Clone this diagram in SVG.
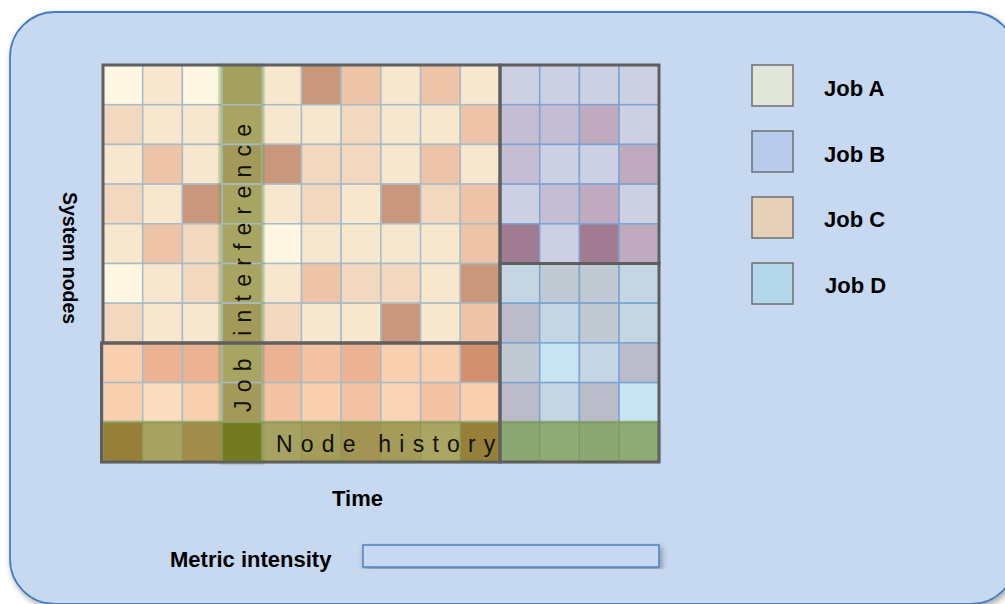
<svg xmlns="http://www.w3.org/2000/svg" width="1005" height="604" viewBox="0 0 1005 604">
<defs>
<filter id="sh" x="-5%" y="-5%" width="110%" height="110%"><feDropShadow dx="2" dy="3" stdDeviation="3" flood-color="#000" flood-opacity="0.35"/></filter>
<filter id="blur" x="-20%" y="-5%" width="140%" height="110%"><feGaussianBlur stdDeviation="1.2"/></filter>
<style>
.c rect{stroke:#a9bcc6;stroke-width:1.5}
.bd rect{stroke:#7ba4d4;stroke-width:1.5}
.cr{fill:#fdf7e1}.l{fill:#f8e7cf}.m{fill:#f2d8bf}.s{fill:#eec4a9}.d{fill:#c9977b}
.o1{fill:#f8d0b0}.o2{fill:#ecb294}.o3{fill:#f2c2a2}.o4{fill:#d3906f}.o5{fill:#fcdcbf}.o6{fill:#fad4b4}
.b1{fill:#cdcfe3}.b2{fill:#c5bdd1}.b3{fill:#bfaabf}.b4{fill:#a07b91}
.d1{fill:#c3d6e1}.d2{fill:#c1c9d3}.d3{fill:#bbbcc9}.d4{fill:#c7e4f0}
.g1{fill:#a8a461}.g2{fill:#a39a5a}.g0{fill:#a4a05e}
.box{fill:none;stroke:#5f5f5f;stroke-width:3}
.lab{font-family:"Liberation Sans",Arial,sans-serif;font-weight:bold;font-size:22px;fill:#000}
.band{font-family:"Liberation Sans",Arial,sans-serif;font-size:23px;fill:#111;letter-spacing:8.2px}
.leg{stroke:#6f6f6f;stroke-width:1.5}
</style>
</defs>
<rect x="10" y="12" width="1006" height="592" rx="45" ry="45" fill="#c6d9f1" stroke="#4a7ebb" stroke-width="1.8" filter="url(#sh)"/>
<g id="grid">
<g class="c">
<rect x="103" y="65" width="39.7" height="39.7" class="cr"/><rect x="142.7" y="65" width="39.7" height="39.7" class="l"/><rect x="182.4" y="65" width="39.7" height="39.7" class="cr"/><rect x="222.1" y="65" width="39.7" height="39.7" class="g0"/><rect x="261.8" y="65" width="39.7" height="39.7" class="l"/><rect x="301.5" y="65" width="39.7" height="39.7" class="d"/><rect x="341.2" y="65" width="39.7" height="39.7" class="s"/><rect x="380.9" y="65" width="39.7" height="39.7" class="l"/><rect x="420.6" y="65" width="39.7" height="39.7" class="s"/><rect x="460.3" y="65" width="39.7" height="39.7" class="l"/>
<rect x="103" y="104.7" width="39.7" height="39.7" class="m"/><rect x="142.7" y="104.7" width="39.7" height="39.7" class="l"/><rect x="182.4" y="104.7" width="39.7" height="39.7" class="l"/><rect x="222.1" y="104.7" width="39.7" height="39.7" class="g1"/><rect x="261.8" y="104.7" width="39.7" height="39.7" class="l"/><rect x="301.5" y="104.7" width="39.7" height="39.7" class="l"/><rect x="341.2" y="104.7" width="39.7" height="39.7" class="m"/><rect x="380.9" y="104.7" width="39.7" height="39.7" class="l"/><rect x="420.6" y="104.7" width="39.7" height="39.7" class="l"/><rect x="460.3" y="104.7" width="39.7" height="39.7" class="s"/>
<rect x="103" y="144.4" width="39.7" height="39.7" class="l"/><rect x="142.7" y="144.4" width="39.7" height="39.7" class="s"/><rect x="182.4" y="144.4" width="39.7" height="39.7" class="l"/><rect x="222.1" y="144.4" width="39.7" height="39.7" class="g2"/><rect x="261.8" y="144.4" width="39.7" height="39.7" class="d"/><rect x="301.5" y="144.4" width="39.7" height="39.7" class="m"/><rect x="341.2" y="144.4" width="39.7" height="39.7" class="m"/><rect x="380.9" y="144.4" width="39.7" height="39.7" class="l"/><rect x="420.6" y="144.4" width="39.7" height="39.7" class="s"/><rect x="460.3" y="144.4" width="39.7" height="39.7" class="l"/>
<rect x="103" y="184.1" width="39.7" height="39.7" class="m"/><rect x="142.7" y="184.1" width="39.7" height="39.7" class="l"/><rect x="182.4" y="184.1" width="39.7" height="39.7" class="d"/><rect x="222.1" y="184.1" width="39.7" height="39.7" class="g1"/><rect x="261.8" y="184.1" width="39.7" height="39.7" class="l"/><rect x="301.5" y="184.1" width="39.7" height="39.7" class="m"/><rect x="341.2" y="184.1" width="39.7" height="39.7" class="l"/><rect x="380.9" y="184.1" width="39.7" height="39.7" class="d"/><rect x="420.6" y="184.1" width="39.7" height="39.7" class="m"/><rect x="460.3" y="184.1" width="39.7" height="39.7" class="s"/>
<rect x="103" y="223.8" width="39.7" height="39.7" class="l"/><rect x="142.7" y="223.8" width="39.7" height="39.7" class="s"/><rect x="182.4" y="223.8" width="39.7" height="39.7" class="m"/><rect x="222.1" y="223.8" width="39.7" height="39.7" class="g1"/><rect x="261.8" y="223.8" width="39.7" height="39.7" class="cr"/><rect x="301.5" y="223.8" width="39.7" height="39.7" class="l"/><rect x="341.2" y="223.8" width="39.7" height="39.7" class="l"/><rect x="380.9" y="223.8" width="39.7" height="39.7" class="l"/><rect x="420.6" y="223.8" width="39.7" height="39.7" class="l"/><rect x="460.3" y="223.8" width="39.7" height="39.7" class="s"/>
<rect x="103" y="263.5" width="39.7" height="39.7" class="cr"/><rect x="142.7" y="263.5" width="39.7" height="39.7" class="l"/><rect x="182.4" y="263.5" width="39.7" height="39.7" class="m"/><rect x="222.1" y="263.5" width="39.7" height="39.7" class="g1"/><rect x="261.8" y="263.5" width="39.7" height="39.7" class="l"/><rect x="301.5" y="263.5" width="39.7" height="39.7" class="s"/><rect x="341.2" y="263.5" width="39.7" height="39.7" class="m"/><rect x="380.9" y="263.5" width="39.7" height="39.7" class="m"/><rect x="420.6" y="263.5" width="39.7" height="39.7" class="l"/><rect x="460.3" y="263.5" width="39.7" height="39.7" class="d"/>
<rect x="103" y="303.2" width="39.7" height="39.7" class="m"/><rect x="142.7" y="303.2" width="39.7" height="39.7" class="l"/><rect x="182.4" y="303.2" width="39.7" height="39.7" class="l"/><rect x="222.1" y="303.2" width="39.7" height="39.7" class="g2"/><rect x="261.8" y="303.2" width="39.7" height="39.7" class="m"/><rect x="301.5" y="303.2" width="39.7" height="39.7" class="l"/><rect x="341.2" y="303.2" width="39.7" height="39.7" class="l"/><rect x="380.9" y="303.2" width="39.7" height="39.7" class="d"/><rect x="420.6" y="303.2" width="39.7" height="39.7" class="l"/><rect x="460.3" y="303.2" width="39.7" height="39.7" class="s"/>
<rect x="103" y="342.9" width="39.7" height="39.7" class="o1"/><rect x="142.7" y="342.9" width="39.7" height="39.7" class="o2"/><rect x="182.4" y="342.9" width="39.7" height="39.7" class="o2"/><rect x="222.1" y="342.9" width="39.7" height="39.7" class="g1"/><rect x="261.8" y="342.9" width="39.7" height="39.7" class="o2"/><rect x="301.5" y="342.9" width="39.7" height="39.7" class="o3"/><rect x="341.2" y="342.9" width="39.7" height="39.7" class="o2"/><rect x="380.9" y="342.9" width="39.7" height="39.7" class="o1"/><rect x="420.6" y="342.9" width="39.7" height="39.7" class="o1"/><rect x="460.3" y="342.9" width="39.7" height="39.7" class="o4"/>
<rect x="103" y="382.6" width="39.7" height="39.7" class="o1"/><rect x="142.7" y="382.6" width="39.7" height="39.7" class="o5"/><rect x="182.4" y="382.6" width="39.7" height="39.7" class="o1"/><rect x="222.1" y="382.6" width="39.7" height="39.7" class="g2"/><rect x="261.8" y="382.6" width="39.7" height="39.7" class="o3"/><rect x="301.5" y="382.6" width="39.7" height="39.7" class="o1"/><rect x="341.2" y="382.6" width="39.7" height="39.7" class="o3"/><rect x="380.9" y="382.6" width="39.7" height="39.7" class="o6"/><rect x="420.6" y="382.6" width="39.7" height="39.7" class="o3"/><rect x="460.3" y="382.6" width="39.7" height="39.7" class="o1"/>
</g>
<g class="bd">
<rect x="500" y="65" width="39.7" height="39.7" class="b1"/><rect x="539.7" y="65" width="39.7" height="39.7" class="b1"/><rect x="579.4" y="65" width="39.7" height="39.7" class="b1"/><rect x="619.1" y="65" width="39.7" height="39.7" class="b1"/>
<rect x="500" y="104.7" width="39.7" height="39.7" class="b2"/><rect x="539.7" y="104.7" width="39.7" height="39.7" class="b2"/><rect x="579.4" y="104.7" width="39.7" height="39.7" class="b3"/><rect x="619.1" y="104.7" width="39.7" height="39.7" class="b1"/>
<rect x="500" y="144.4" width="39.7" height="39.7" class="b2"/><rect x="539.7" y="144.4" width="39.7" height="39.7" class="b1"/><rect x="579.4" y="144.4" width="39.7" height="39.7" class="b1"/><rect x="619.1" y="144.4" width="39.7" height="39.7" class="b3"/>
<rect x="500" y="184.1" width="39.7" height="39.7" class="b1"/><rect x="539.7" y="184.1" width="39.7" height="39.7" class="b2"/><rect x="579.4" y="184.1" width="39.7" height="39.7" class="b3"/><rect x="619.1" y="184.1" width="39.7" height="39.7" class="b1"/>
<rect x="500" y="223.8" width="39.7" height="39.7" class="b4"/><rect x="539.7" y="223.8" width="39.7" height="39.7" class="b1"/><rect x="579.4" y="223.8" width="39.7" height="39.7" class="b4"/><rect x="619.1" y="223.8" width="39.7" height="39.7" class="b3"/>
<rect x="500" y="263.5" width="39.7" height="39.7" class="d1"/><rect x="539.7" y="263.5" width="39.7" height="39.7" class="d2"/><rect x="579.4" y="263.5" width="39.7" height="39.7" class="d2"/><rect x="619.1" y="263.5" width="39.7" height="39.7" class="d1"/>
<rect x="500" y="303.2" width="39.7" height="39.7" class="d3"/><rect x="539.7" y="303.2" width="39.7" height="39.7" class="d1"/><rect x="579.4" y="303.2" width="39.7" height="39.7" class="d2"/><rect x="619.1" y="303.2" width="39.7" height="39.7" class="d1"/>
<rect x="500" y="342.9" width="39.7" height="39.7" class="d2"/><rect x="539.7" y="342.9" width="39.7" height="39.7" class="d4"/><rect x="579.4" y="342.9" width="39.7" height="39.7" class="d1"/><rect x="619.1" y="342.9" width="39.7" height="39.7" class="d3"/>
<rect x="500" y="382.6" width="39.7" height="39.7" class="d3"/><rect x="539.7" y="382.6" width="39.7" height="39.7" class="d1"/><rect x="579.4" y="382.6" width="39.7" height="39.7" class="d3"/><rect x="619.1" y="382.6" width="39.7" height="39.7" class="d4"/>
</g>
<g id="history-row" stroke="#8a9a55" stroke-width="1.2">
<rect x="103" y="422.3" width="39.7" height="39.7" fill="#977f3a"/><rect x="142.7" y="422.3" width="39.7" height="39.7" fill="#a9a363"/><rect x="182.4" y="422.3" width="39.7" height="39.7" fill="#a28c4c"/><rect x="222.1" y="422.3" width="39.7" height="39.7" fill="#737a1f"/><rect x="261.8" y="422.3" width="39.7" height="39.7" fill="#a8a262"/><rect x="301.5" y="422.3" width="39.7" height="39.7" fill="#a59b5a"/><rect x="341.2" y="422.3" width="39.7" height="39.7" fill="#a39453"/><rect x="380.9" y="422.3" width="39.7" height="39.7" fill="#a59c5a"/><rect x="420.6" y="422.3" width="39.7" height="39.7" fill="#aaa563"/><rect x="460.3" y="422.3" width="39.7" height="39.7" fill="#977f39"/>
<rect x="500" y="422.3" width="39.7" height="39.7" fill="#8ca773" stroke="#7e9a66"/><rect x="539.7" y="422.3" width="39.7" height="39.7" fill="#8fab76" stroke="#7e9a66"/><rect x="579.4" y="422.3" width="39.7" height="39.7" fill="#8ca773" stroke="#7e9a66"/><rect x="619.1" y="422.3" width="39.7" height="39.7" fill="#8fab76" stroke="#7e9a66"/>
</g>
</g>
<g id="job-interference">
<rect x="220" y="65" width="43" height="398" fill="none" stroke="#7f9a45" stroke-width="2" opacity="0.7" filter="url(#blur)"/>
<text class="band" transform="translate(251,412) rotate(-90)">Job interference</text>
</g>
<g id="node-history">
<rect x="103" y="422" width="556" height="40" fill="none" stroke="#7f9a45" stroke-width="2" opacity="0.6" filter="url(#blur)"/>
<text class="band" x="276" y="452">Node history</text>
</g>
<g id="region-boxes">
<rect class="box" x="103" y="65" width="397" height="278" stroke="#55627a"/>
<rect class="box" x="101.5" y="343" width="398.5" height="119"/>
<rect class="box" x="500" y="65" width="159" height="198.5"/>
<rect class="box" x="500" y="263.5" width="159" height="198.5"/>
</g>
<g id="legend-a"><rect class="leg" x="752" y="65" width="41" height="41" fill="#e1e6d9"/><text class="lab" x="824" y="96">Job A</text></g>
<g id="legend-b"><rect class="leg" x="752" y="131" width="41" height="41" fill="#b8cbea"/><text class="lab" x="824" y="162">Job B</text></g>
<g id="legend-c"><rect class="leg" x="752" y="197" width="41" height="41" fill="#e6d0b8"/><text class="lab" x="824" y="227">Job C</text></g>
<g id="legend-d"><rect class="leg" x="752" y="263" width="41" height="41" fill="#b2d6ea"/><text class="lab" x="825" y="293">Job D</text></g>
<g id="axis-y"><text class="lab" transform="translate(63,192) rotate(90)" style="font-size:19.5px">System nodes</text></g>
<g id="axis-x"><text class="lab" x="332" y="506">Time</text></g>
<g id="metric">
<text class="lab" x="170" y="567">Metric intensity</text>
<rect x="363" y="545" width="296" height="22" fill="#c6d9f1" stroke="#4f81bd" stroke-width="1.5" filter="url(#sh)"/>
</g>
</svg>
